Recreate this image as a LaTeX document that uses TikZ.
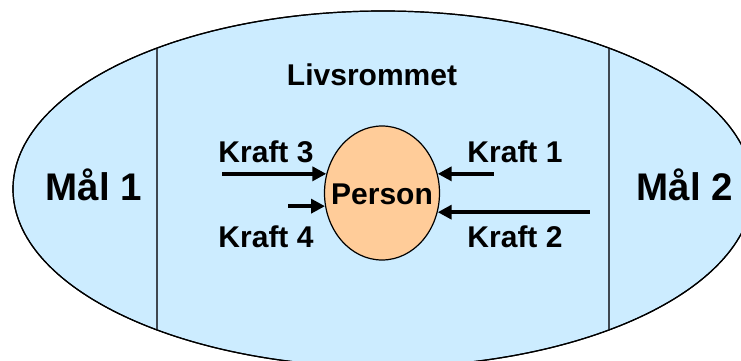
\documentclass[tikz,border=0pt]{standalone}
\usepackage{fontspec}
\setmainfont{Liberation Sans}
\usetikzlibrary{shapes.geometric,arrows.meta}
\definecolor{skyfill}{HTML}{CCECFF}
\definecolor{personfill}{HTML}{FFCC99}
\definecolor{divider}{HTML}{3F4750}
\tikzset{
  field/.style={ellipse, draw=black, line width=1.2pt, fill=skyfill, inner sep=0pt},
  personnode/.style={ellipse, draw=black, line width=1.2pt, fill=personfill, inner sep=0pt,
     minimum width=115pt, minimum height=134pt},
  lbl/.style={font=\bfseries\fontsize{30}{33}\selectfont, anchor=base, inner sep=0pt},
  goal/.style={font=\bfseries\fontsize{38.5}{42}\selectfont, anchor=base, inner sep=0pt},
  force/.style={line width=4pt, -{Triangle[length=14pt,width=14pt]}},
  divline/.style={draw=divider, line width=1.5pt}
}
\begin{document}
\begin{tikzpicture}[x=1pt,y=-1pt]
\useasboundingbox (0,0) rectangle (741,360);
\clip (0,0) rectangle (741,360);
% life space
\node[field, minimum width=740pt, minimum height=356pt] (space) at (383,189) {};
\begin{scope}
  \clip (383,189) ellipse (370 and 178);
  \draw[divline] (157,0) -- (157,400);
  \draw[divline] (609,0) -- (609,400);
\end{scope}
\draw[black, line width=1.2pt] (383,189) ellipse (370 and 178);
% labels
\node[lbl] (livs) at (372,85) {Livsrommet};
\node[goal] (mal1) at (94,200) {Mål 1};
\node[goal] (mal2) at (685,200) {Mål 2};
% person
\node[personnode] (person) at (382,193) {};
\node[lbl] (ptext) at (382,204) {Person};
% forces
\node[lbl] (k3) at (266,162) {Kraft 3};
\node[lbl] (k1) at (515,162) {Kraft 1};
\node[lbl] (k4) at (266,247) {Kraft 4};
\node[lbl] (k2) at (515,247) {Kraft 2};
\draw[force] ([xshift=-104pt]person.161) -- (person.161);
\draw[force] ([xshift=56pt]person.19) -- (person.19);
\draw[force] ([xshift=-37pt]person.193) -- (person.193);
\draw[force] ([xshift=152pt]person.341) -- (person.341);
\end{tikzpicture}
\end{document}
